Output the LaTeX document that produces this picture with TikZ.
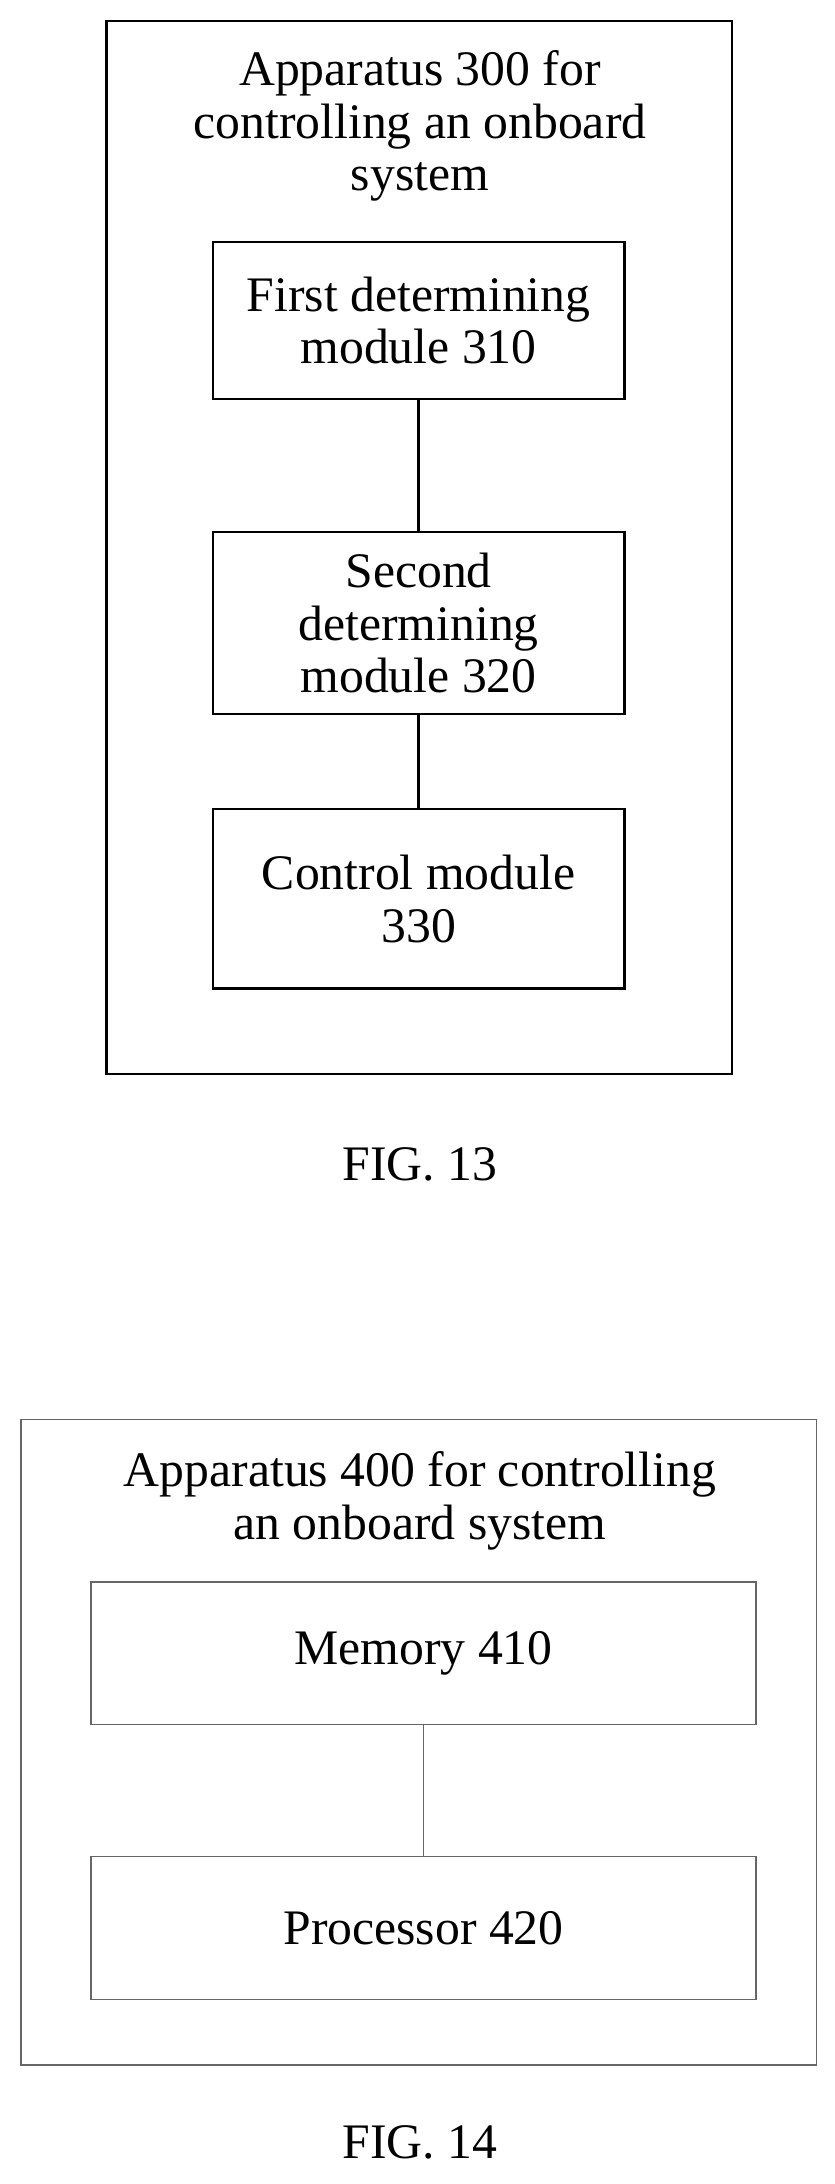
\documentclass[tikz,border=0pt]{standalone}
\usepackage{fontspec}
\setmainfont{Liberation Serif}
\begin{document}
\begin{tikzpicture}[x=1pt,y=-1pt,
  txt/.style={font=\fontsize{35.5}{37.5}\selectfont,align=center,inner sep=0},
  blk/.style={draw,line width=1.6pt,txt},
  gblk/.style={draw=black!60,line width=0.9pt,txt}]
\useasboundingbox (0,0) rectangle (596,1560);
% FIG 13
\node[blk,minimum width=447,minimum height=752] (o1) at (299.5,391) {};
\node[txt] (t1) at (300,90) {Apparatus 300 for\\controlling an onboard\\system};
\node[blk,minimum width=294,minimum height=112] (m310) at (299,229) {First determining\\module 310};
\node[blk,minimum width=294,minimum height=130] (m320) at (299,445) {Second\\determining\\module 320};
\node[blk,minimum width=294,minimum height=128] (m330) at (299,642) {Control module\\330};
\draw[line width=1.6pt] (m310) -- (m320);
\draw[line width=1.6pt] (m320) -- (m330);
\node[txt] (f13) at (300,832) {FIG. 13};
% FIG 14
\node[gblk,minimum width=568,minimum height=461] (o2) at (299,1244.5) {};
\node[txt] (t2) at (300,1072) {Apparatus 400 for controlling\\an onboard system};
\node[gblk,minimum width=475,minimum height=102] (m410) at (302.5,1181) {Memory 410};
\node[gblk,minimum width=475,minimum height=102] (m420) at (302.5,1377) {Processor 420};
\draw[black!60,line width=0.9pt] (m410) -- (m420);
\node[txt] (f14) at (300,1530) {FIG. 14};
\end{tikzpicture}
\end{document}
